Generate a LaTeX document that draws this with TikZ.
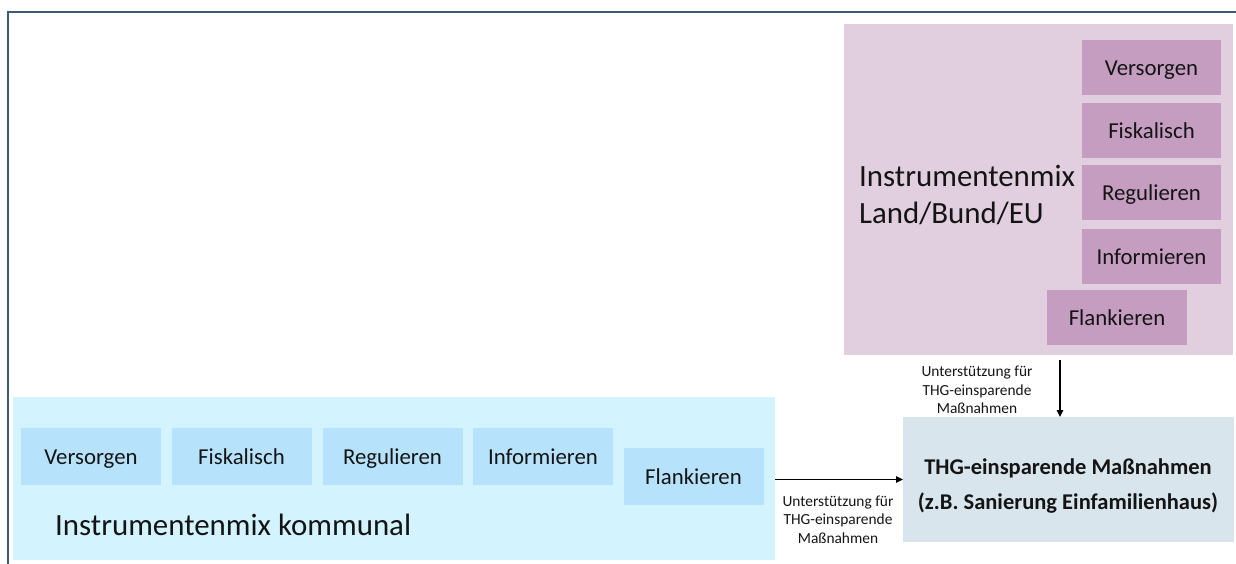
\documentclass[tikz,border=0pt]{standalone}
\usepackage{fontspec}
\setmainfont{Carlito}
\usetikzlibrary{arrows.meta}
\definecolor{framec}{HTML}{3F5B73}
\definecolor{bluepanel}{RGB}{211,243,255}
\definecolor{bluebox}{RGB}{183,226,252}
\definecolor{pinkpanel}{RGB}{225,207,224}
\definecolor{pinkbox}{RGB}{197,157,193}
\definecolor{targetc}{RGB}{217,229,236}
\definecolor{txt}{RGB}{20,20,20}
\tikzset{
  panel/.style={draw=none, inner sep=0pt, outer sep=0pt},
  instbox/.style={draw=none, inner sep=0pt, outer sep=0pt, minimum width=140pt, minimum height=57pt,
    text=txt, font=\fontsize{22.8}{27}\selectfont, text height=20pt, text depth=4pt},
  bluebx/.style={instbox, fill=bluebox},
  pinkbx/.style={instbox, fill=pinkbox, minimum width=139pt, minimum height=55pt},
  bigtxt/.style={inner sep=0pt, text=txt, font=\fontsize{30.9}{37}\selectfont, align=left},
  smalltxt/.style={inner sep=0pt, text=txt, font=\fontsize{15.4}{18.5}\selectfont, align=center},
  conn/.style={line width=1.5pt, -{Triangle[length=7pt,width=6.5pt]}}
}
\begin{document}
\begin{tikzpicture}[x=1pt,y=-1pt]
\useasboundingbox (0,0) rectangle (1236,564);
\draw[framec, line width=2pt] (1236,12) -- (8,12) -- (8,564);

% panels
\node[panel, fill=bluepanel, minimum width=762pt, minimum height=163pt] (kommunal) at (394,478.5) {};
\node[panel, fill=pinkpanel, minimum width=389pt, minimum height=331pt] (land) at (1038.5,189.5) {};
\node[panel, fill=targetc, minimum width=331pt, minimum height=125pt] (target) at (1068.5,479.5) {};

% blue boxes
\node[bluebx] (bv) at (91,456.5) {Versorgen};
\node[bluebx] (bf) at (241.5,456.5) {Fiskalisch};
\node[bluebx] (br) at (392.5,456.5) {Regulieren};
\node[bluebx] (bi) at (543,456.5) {Informieren};
\node[bluebx] (bfl) at (693.5,476) {Flankieren};
\node[bigtxt, anchor=base west] (ktext) at (55,535) {Instrumentenmix kommunal};

% pink boxes
\node[pinkbx] (pv) at (1151.5,67.5) {Versorgen};
\node[pinkbx] (pf) at (1151.5,130.5) {Fiskalisch};
\node[pinkbx] (pr) at (1151.5,192.5) {Regulieren};
\node[pinkbx] (pi) at (1151.5,256) {Informieren};
\node[pinkbx, minimum width=140pt] (pfl) at (1117,317.5) {Flankieren};
\node[bigtxt, anchor=west] (ltext) at (859,195) {Instrumentenmix\\Land/Bund/EU};

% target text
\node[inner sep=0pt, text=txt, align=center, font=\fontsize{22.5}{35}\selectfont\bfseries] (ttext) at (1068,486)
  {THG-einsparende Maßnahmen\\(z.B. Sanierung Einfamilienhaus)};

% connectors
\draw[conn] (target.west -| kommunal.east) -- (target.west);
\coordinate (vtop) at (1060,360);
\draw[conn] (vtop) -- (vtop |- target.north);

\node[smalltxt] (lab1) at (977,390) {Unterstützung für\\THG-einsparende\\Maßnahmen};
\node[smalltxt] (lab2) at (838,519.5) {Unterstützung für\\THG-einsparende\\Maßnahmen};
\end{tikzpicture}
\end{document}
